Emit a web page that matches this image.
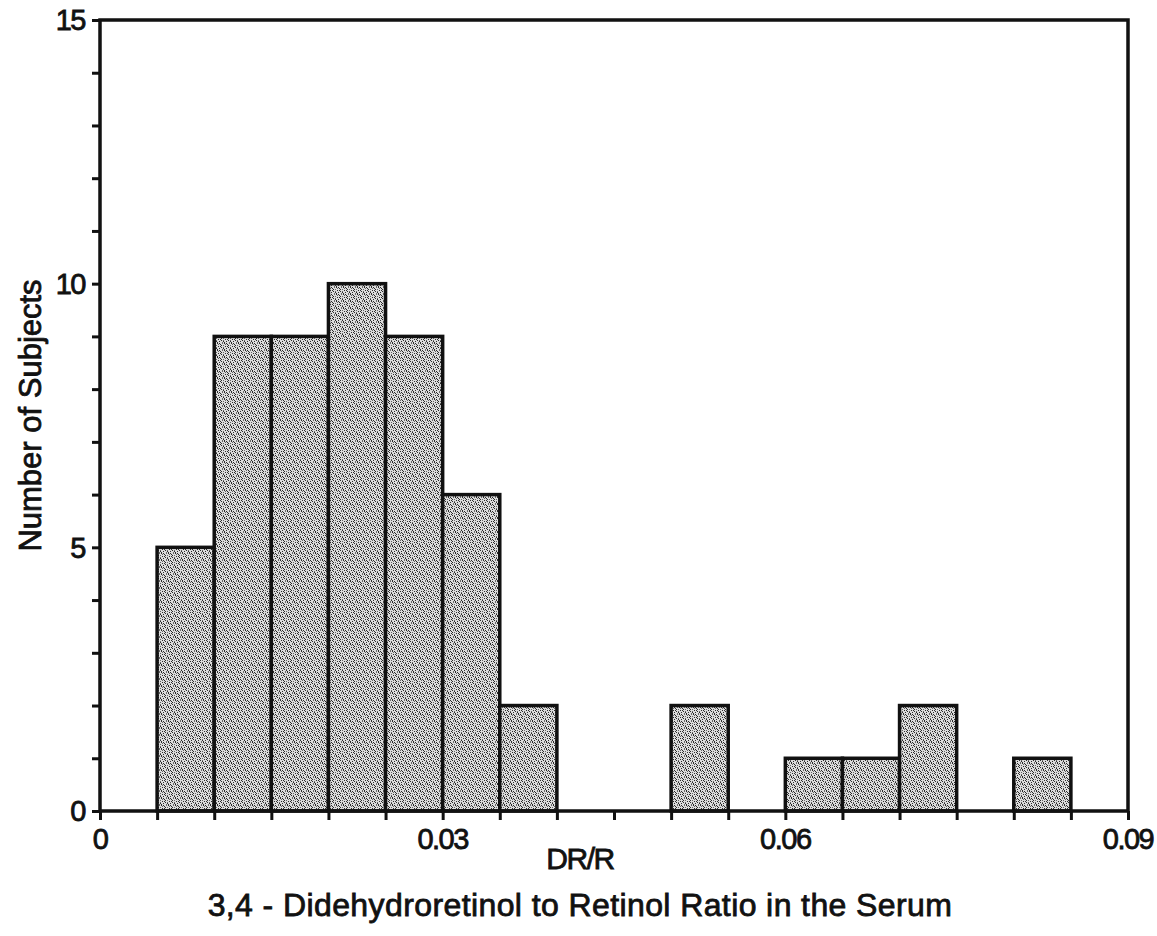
<!DOCTYPE html>
<html lang="en">
  <head>
    <meta charset="UTF-8" />
    <title>DR/R histogram</title>
    <script src="https://cdn.jsdelivr.net/npm/d3@7"></script>
    <style>
      html,
      body {
        margin: 0;
        padding: 0;
        background: #fff;
      }
      text {
        font-family: 'Liberation Sans', Arial, Helvetica, sans-serif;
        fill: #111;
        stroke: #111;
        stroke-width: 0.8px;
      }
    </style>
  </head>
  <body>
    <script>
      // bin edges (DR/R) and counts
      const binStarts = [0.005, 0.01, 0.015, 0.02, 0.025, 0.03, 0.035, 0.05, 0.06, 0.065, 0.07, 0.08];
      const binWidth = 0.005;
      const counts = [5, 9, 9, 10, 9, 6, 2, 2, 1, 1, 2, 1];

      const xTickLabels = [0, 0.03, 0.06, 0.09];
      const yTickLabels = [0, 5, 10, 15];

      const width = 1157,
        height = 936;
      const margin = { top: 20, right: 29, bottom: 125, left: 100 };

      const svg = d3
        .select('body')
        .append('svg')
        .attr('width', width)
        .attr('height', height);

      // halftone-ish stipple for the bars
      const dots = [
        [0, 0], [3, 1], [5, 0], [1, 3], [4, 4], [6, 2], [2, 5], [0, 6], [5, 6], [3, 3], [6, 5], [1, 1],
        [4, 2], [2, 0], [6, 4]
      ];
      const pat = svg
        .append('defs')
        .append('pattern')
        .attr('id', 'stipple')
        .attr('patternUnits', 'userSpaceOnUse')
        .attr('width', 7)
        .attr('height', 7);
      pat.append('rect').attr('width', 7).attr('height', 7).attr('fill', '#dcdcdc');
      pat
        .selectAll('rect.dot')
        .data(dots)
        .join('rect')
        .attr('class', 'dot')
        .attr('x', d => d[0])
        .attr('y', d => d[1])
        .attr('width', 1)
        .attr('height', 1)
        .attr('fill', (d, i) => (i % 3 === 2 ? '#666' : '#2a2a2a'));

      const x = d3
        .scaleLinear()
        .domain([0, 0.09])
        .range([margin.left, width - margin.right]);

      const y = d3
        .scaleLinear()
        .domain([0, 15])
        .range([height - margin.bottom, margin.top]);

      const bins = binStarts.map((s, i) => ({ x0: s, x1: s + binWidth, n: counts[i] }));

      svg
        .append('g')
        .selectAll('rect')
        .data(bins)
        .join('rect')
        .attr('x', d => x(d.x0))
        .attr('y', d => y(d.n))
        .attr('width', d => x(d.x1) - x(d.x0))
        .attr('height', d => y(0) - y(d.n))
        .attr('fill', 'url(#stipple)')
        .attr('stroke', '#111')
        .attr('stroke-width', 3.5);

      // frame
      svg
        .append('rect')
        .attr('x', x(0))
        .attr('y', y(15))
        .attr('width', x(0.09) - x(0))
        .attr('height', y(0) - y(15))
        .attr('fill', 'none')
        .attr('stroke', '#111')
        .attr('stroke-width', 3.5);

      // x axis: small ticks at every bin edge
      const gx = svg
        .append('g')
        .attr('transform', `translate(0,${y(0)})`)
        .call(
          d3
            .axisBottom(x)
            .tickValues(d3.range(0, 19).map(i => i * 0.005))
            .tickSize(9)
            .tickFormat(() => '')
        );
      gx.select('.domain').remove();
      gx.selectAll('.tick line').attr('stroke', '#111').attr('stroke-width', 3);

      svg
        .append('g')
        .selectAll('text')
        .data(xTickLabels)
        .join('text')
        .attr('x', d => x(d))
        .attr('y', 849)
        .attr('text-anchor', 'middle')
        .attr('font-size', 29)
        .attr('letter-spacing', -1.5)
        .text(d => (d === 0 ? '0' : d3.format('.2f')(d)));

      // y axis: tick every subject
      const gy = svg
        .append('g')
        .attr('transform', `translate(${x(0)},0)`)
        .call(
          d3
            .axisLeft(y)
            .tickValues(d3.range(0, 16))
            .tickSize(8)
            .tickFormat(() => '')
        );
      gy.select('.domain').remove();
      gy.selectAll('.tick line').attr('stroke', '#111').attr('stroke-width', 3);

      svg
        .append('g')
        .selectAll('text')
        .data(yTickLabels)
        .join('text')
        .attr('x', x(0) - 15)
        .attr('y', d => y(d))
        .attr('dy', '0.36em')
        .attr('text-anchor', 'end')
        .attr('font-size', 29)
        .attr('letter-spacing', -1.5)
        .text(d => d);

      // axis titles (centred on the page, not the plot)
      const textCenter = 580;

      svg
        .append('text')
        .attr('x', textCenter)
        .attr('y', 869)
        .attr('text-anchor', 'middle')
        .attr('font-size', 30)
        .attr('letter-spacing', -1.5)
        .text('DR/R');

      svg
        .append('text')
        .attr('transform', `translate(41,${(y(0) + y(15)) / 2}) rotate(-90)`)
        .attr('text-anchor', 'middle')
        .attr('font-size', 31)
        .text('Number of Subjects');

      svg
        .append('text')
        .attr('x', textCenter)
        .attr('y', 916)
        .attr('text-anchor', 'middle')
        .attr('font-size', 32)
        .attr('letter-spacing', 0.4)
        .text('3,4 - Didehydroretinol to Retinol Ratio in the Serum');
    </script>
  </body>
</html>
